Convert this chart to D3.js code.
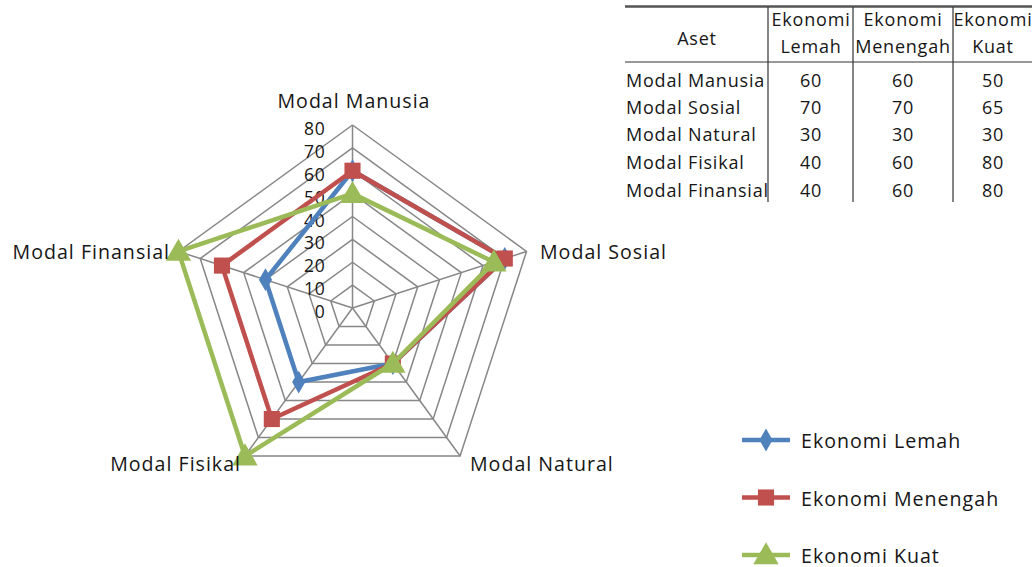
<!DOCTYPE html>
<html><head><meta charset="utf-8">
<script src="https://cdn.jsdelivr.net/npm/d3@7"></script>
<style>
html,body{margin:0;padding:0;background:#fff;}
svg{display:block;font-family:"Open Sans",Lato,sans-serif;}
</style></head>
<body><svg id="c" width="1032" height="567"></svg>
<script>
const axes = ["Modal Manusia","Modal Sosial","Modal Natural","Modal Fisikal","Modal Finansial"];
const seriesNames = ["Ekonomi Lemah","Ekonomi Menengah","Ekonomi Kuat"];
const lemah = [60,70,30,40,40];
const menengah = [60,70,30,60,60];
const kuat = [50,65,30,80,80];
const ticks = [0,10,20,30,40,50,60,70,80];
const tableHeader = ["Aset","Ekonomi|Lemah","Ekonomi|Menengah","Ekonomi|Kuat"];
const tableMenengah = ["60","70","30","60","60"];

const colors = ["#4F81BD","#C0504D","#9BBB59"];
const seriesData = [lemah, menengah, kuat];

const svg = d3.select("#c");
const cx = 352.5, cy = 308, R = 183;
const r = d3.scaleLinear().domain([0,80]).range([0,R]);
const ang = d3.scaleLinear().domain([0,axes.length]).range([-Math.PI/2, 1.5*Math.PI]);
const pt = (i,v)=>[cx + r(v)*Math.cos(ang(i)), cy + r(v)*Math.sin(ang(i))];
const txtFill = "#161616";

const g = svg.append("g");
// grid rings
ticks.filter(t=>t>0).forEach(t=>{
  g.append("path")
    .attr("d", d3.line()(axes.map((a,i)=>pt(i,t)).concat([pt(0,t)])))
    .attr("fill","none").attr("stroke","#878787").attr("stroke-width",1.5);
});
// spokes
axes.forEach((a,i)=>{
  const [x,y]=pt(i,80);
  g.append("line").attr("x1",cx).attr("y1",cy).attr("x2",x).attr("y2",y)
    .attr("stroke","#878787").attr("stroke-width",1.5);
});
// tick labels
ticks.forEach(t=>{
  g.append("text").attr("x",cx-27).attr("y",cy - r(t)+10)
   .attr("text-anchor","end").attr("font-size",17.5).attr("letter-spacing",0.8)
   .attr("fill",txtFill).text(t);
});

// series
const shapes = [d3.symbolDiamond, d3.symbolSquare, d3.symbolTriangle];
const sizes = [150, 260, 280];
seriesData.forEach((vals,s)=>{
  const pts = vals.map((v,i)=>pt(i,v));
  g.append("path").attr("d", d3.line()(pts.concat([pts[0]])))
   .attr("fill","none").attr("stroke",colors[s]).attr("stroke-width",4.5)
   .attr("stroke-linejoin","round");
  pts.forEach(p=>{
    g.append("path").attr("d", d3.symbol().type(shapes[s]).size(sizes[s])())
     .attr("transform",`translate(${p[0]},${p[1]+(s===2?2:0)})`)
     .attr("fill",colors[s]);
  });
});

// axis labels
const labPos = [
  {x:354,y:108,a:"middle"},
  {x:540,y:259,a:"start"},
  {x:470,y:471,a:"start"},
  {x:241,y:471,a:"end"},
  {x:170,y:259,a:"end"}
];
axes.forEach((a,i)=>{
  g.append("text").attr("x",labPos[i].x).attr("y",labPos[i].y)
   .attr("text-anchor",labPos[i].a).attr("font-size",19.6).attr("letter-spacing",1)
   .attr("fill",txtFill).text(a);
});

// legend
const legY = [440,497.5,555];
seriesNames.forEach((n,s)=>{
  const lg = svg.append("g");
  lg.append("line").attr("x1",742).attr("x2",790).attr("y1",legY[s]).attr("y2",legY[s])
    .attr("stroke",colors[s]).attr("stroke-width",4.5);
  lg.append("path").attr("d", d3.symbol().type(shapes[s]).size(sizes[s])())
    .attr("transform",`translate(766,${legY[s]+(s===2?2:0)})`).attr("fill",colors[s]);
  lg.append("text").attr("x",801).attr("y",legY[s]+8).attr("font-size",19.6)
    .attr("letter-spacing",1).attr("fill",txtFill).text(n);
});

// table
const t = svg.append("g").attr("font-size",18).attr("letter-spacing",0.8).attr("fill",txtFill);
const colX = [697, 811, 903, 993];
const vLines = [768, 853, 953];
t.append("line").attr("x1",625).attr("x2",1032).attr("y1",6.5).attr("y2",6.5)
  .attr("stroke","#555").attr("stroke-width",2.5);
t.append("line").attr("x1",625).attr("x2",1032).attr("y1",62).attr("y2",62)
  .attr("stroke","#333").attr("stroke-width",1.2);
vLines.forEach(x=>{
  t.append("line").attr("x1",x).attr("x2",x).attr("y1",7).attr("y2",202)
   .attr("stroke","#333").attr("stroke-width",1.2);
});
tableHeader.forEach((h,i)=>{
  const parts = h.split("|");
  if(parts.length===1){
    t.append("text").attr("x",colX[i]).attr("y",45).attr("text-anchor","middle").text(parts[0]);
  } else {
    t.append("text").attr("x",colX[i]).attr("y",26).attr("text-anchor","middle").text(parts[0]);
    t.append("text").attr("x",colX[i]).attr("y",53).attr("text-anchor","middle").text(parts[1]);
  }
});
const rowY = [87,114,141,169,197];
const tableCols = [lemah.map(String), tableMenengah, kuat.map(String)];
axes.forEach((a,ri)=>{
  t.append("text").attr("x",626).attr("y",rowY[ri]).text(a);
  tableCols.forEach((col,ci)=>{
    t.append("text").attr("x",colX[ci+1]).attr("y",rowY[ri]).attr("text-anchor","middle").text(col[ri]);
  });
});
</script></body></html>
